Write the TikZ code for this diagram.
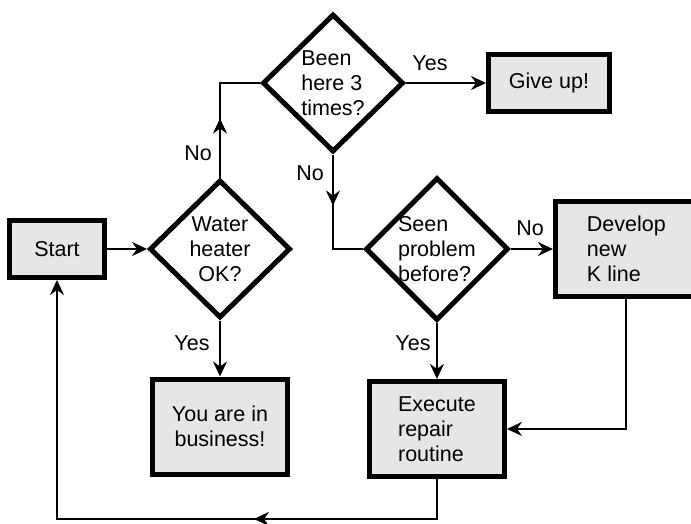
\documentclass[tikz,border=0pt]{standalone}
\usepackage{fontspec}
\setmainfont{Liberation Sans}
\usepackage{tikz}
\usepackage{xcolor}
\usetikzlibrary{arrows.meta, positioning, shapes.geometric, decorations.markings}
\definecolor{boxgray}{HTML}{E6E6E6}

\begin{document}
\begin{tikzpicture}[
      x=1pt, y=-1pt,
      font=\fontsize{21.5pt}{25pt}\selectfont,
      box/.style={rectangle, draw=black, fill=boxgray, line width=5pt,
                  minimum height=95pt, minimum width=135pt, align=left,
                  inner sep=4pt},
      dec/.style={diamond, draw=black, fill=white, line width=5pt,
                  minimum width=141pt, minimum height=138pt, align=left,
                  inner sep=0pt},
      lbl/.style={inner sep=0pt},
      arr/.style={-{Stealth[length=15pt, width=14pt, inset=5pt]}, line width=2pt},
      plain/.style={line width=2pt},
      midarr/.style={postaction={decorate}, decoration={markings,
                  mark=at position #1 with {\arrow{Stealth[length=15pt, width=14pt, inset=5pt]}}}}
    ]
    \useasboundingbox (0,0) rectangle (691,523);

    \node[box, minimum width=95pt, minimum height=57pt] (start) at (57,249) {Start};
    \node[dec, align=center, right=40pt of start] (water) {Water\\heater\\OK?};
    \node[dec] (been) at (333,83) {Been\\here 3\\times?};
    \node[box, minimum width=121pt, minimum height=57pt, right=80pt of been] (giveup) {Give up!};
    \node[dec, right=70pt of water] (seen) {Seen\\problem\\before?};
    \node[box, minimum width=142pt, right=42pt of seen] (develop) {Develop\\new\\K line};
    \node[box, align=center, below=56pt of water] (you) {You are in\\business!};
    \node[box, below=56pt of seen] (execute) {Execute\\repair\\routine};
    \coordinate[below=40pt of execute] (back);

    % labels
    \node[lbl] (noA) at (198,153) {No};
    \node[lbl] (noB) at (310,173) {No};
    \node[lbl] (yesA) at (430,63) {Yes};
    \node[lbl] (noC) at (530,228) {No};
    \node[lbl] (yesB) at (192,343) {Yes};
    \node[lbl] (yesC) at (413,343) {Yes};

    \draw[arr] (start) -- (water);
    \draw[plain, midarr=59pt] (water.north) |- (been.west);
    \draw[arr] (been) -- (giveup);
    \draw[plain, midarr=51pt] (been.south) |- (seen.west);
    \draw[arr] (seen) -- (develop);
    \draw[arr] (water) -- (you);
    \draw[arr] (seen) -- (execute);
    \draw[arr] (develop.south) |- (execute.east);
    \draw[arr, midarr=223pt] (execute.south) -- (back) -| (start.south);
  \end{tikzpicture}
\end{document}
